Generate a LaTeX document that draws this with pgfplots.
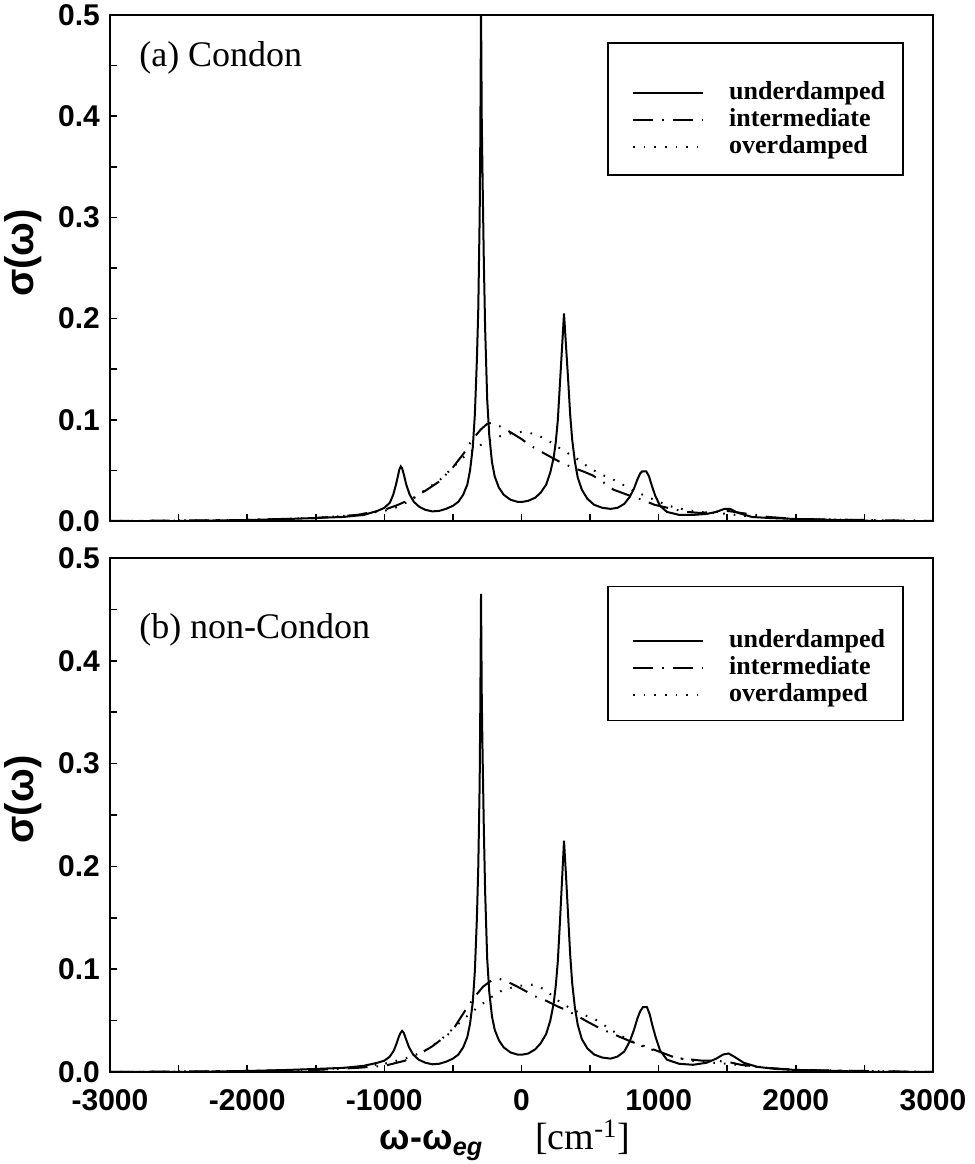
\documentclass[border=0pt]{standalone}
\usepackage{fontspec}
\setmainfont{Liberation Serif}
\setsansfont{Liberation Sans}
\usepackage{pgfplots}
\pgfplotsset{compat=1.18}

\pgfplotsset{
  spec/.style={
    scale only axis,
    width=411.5pt,
    xmin=-3000, xmax=3000,
    ymin=0, ymax=0.5,
    axis line style={line width=1.2pt},
    tick style={line width=0.8pt, black},
    tick align=inside,
    tickpos=left,
    major tick length=3.5pt,
    minor tick length=3.5pt,
    xtick={-3000,-2000,...,3000},
    minor xtick={-2500,-1500,...,2500},
    ytick={0,0.1,...,0.5},
    minor ytick={0.05,0.15,...,0.45},
    yticklabels={0.0,0.1,0.2,0.3,0.4,0.5},
    /pgf/number format/assume math mode=true,
    tick label style={font=\sffamily\bfseries\fontsize{15}{15}\selectfont},
    yticklabel style={xshift=-1.5pt},
    xticklabel style={yshift=-5pt},
    ylabel={σ(ω)},
    ylabel style={at={(axis description cs:-0.106,0.53)}, anchor=center,
      font=\sffamily\bfseries\fontsize{20}{20}\selectfont},
    legend cell align=left,
    legend style={draw=none, fill=none, inner sep=0pt, row sep=1.5pt,
      column sep=12.5pt,
      font=\rmfamily\bfseries\fontsize{13}{13}\selectfont,
      nodes={inner sep=0pt, text height=9pt, text depth=3pt}},
    legend image code/.code={
      \draw[#1] (0pt,0pt) -- (35pt,0pt);
    },
  },
  under/.style={black, line width=1pt},
  inter/.style={black, line width=1pt, dash pattern=on 10pt off 4.5pt on 0.8pt off 4.5pt},
  over/.style={black, line width=1pt, dash pattern=on 0.8pt off 4.5pt},
}

\begin{document}
\begin{tikzpicture}
% (a) Condon
\begin{axis}[spec, name=top, height=253pt, at={(0,0)}, anchor=south west,
  xticklabels={},
  legend style={at={(rel axis cs:0.634,0.87)}, anchor=north west}]
\addplot[under] coordinates {
(-3000,0.000) (-2500,0.000) (-2000,0.001) (-1700,0.002) (-1500,0.003) (-1300,0.004)
(-1150,0.006) (-1050,0.010) (-1000,0.013) (-960,0.018) (-935,0.026) (-915,0.036)
(-900,0.045) (-890,0.051) (-880,0.054) (-870,0.052) (-858,0.046) (-840,0.036)
(-815,0.026) (-785,0.019) (-745,0.014) (-700,0.011) (-650,0.0095) (-600,0.010)
(-550,0.012) (-500,0.015) (-460,0.019) (-425,0.026) (-395,0.036) (-375,0.050)
(-355,0.073) (-340,0.105) (-325,0.16) (-315,0.21) (-305,0.30) (-300,0.38)
(-295,0.51) (-290,0.40) (-285,0.35) (-275,0.26) (-265,0.19) (-250,0.12)
(-235,0.085) (-215,0.058) (-195,0.044) (-165,0.033) (-130,0.026) (-80,0.021)
(-30,0.019) (10,0.019) (50,0.020) (100,0.023) (140,0.028) (180,0.036)
(210,0.048) (235,0.063) (250,0.078) (265,0.10) (280,0.135) (295,0.17)
(310,0.205) (325,0.172) (340,0.14) (355,0.105) (370,0.080) (390,0.058)
(410,0.043) (440,0.031) (480,0.022) (530,0.016) (590,0.013) (650,0.012)
(700,0.013) (750,0.017) (790,0.024) (820,0.032) (845,0.041) (865,0.047)
(880,0.049) (910,0.049) (930,0.044) (950,0.035) (975,0.025) (1010,0.015)
(1060,0.009) (1150,0.006) (1250,0.006) (1350,0.007) (1420,0.009) (1480,0.012)
(1520,0.012) (1580,0.008) (1680,0.004) (1800,0.003) (2000,0.002) (2300,0.001)
(2600,0.000) (3000,0.000)
};
\addlegendentry{underdamped}
\addplot[inter] coordinates {
(-3000,0) (-2000,0.001) (-1500,0.003) (-1200,0.006) (-1000,0.011) (-900,0.016)
(-800,0.022) (-700,0.030) (-600,0.039) (-500,0.053) (-420,0.067) (-360,0.080)
(-300,0.090) (-250,0.096) (-220,0.097) (-180,0.095) (-120,0.091) (-60,0.086)
(0,0.081) (60,0.075) (150,0.068) (230,0.062) (300,0.057) (370,0.053)
(450,0.049) (520,0.045) (600,0.038) (670,0.031) (750,0.027) (810,0.024)
(900,0.020) (970,0.016) (1100,0.012) (1200,0.009) (1300,0.008) (1400,0.009)
(1500,0.010) (1600,0.008) (1800,0.004) (2000,0.002) (2500,0.001) (3000,0)
};
\addlegendentry{intermediate}
\addplot[over] coordinates {
(-3000,0) (-2000,0.001) (-1500,0.003) (-1200,0.006) (-1000,0.010) (-900,0.014)
(-800,0.021) (-700,0.031) (-600,0.040) (-500,0.053) (-400,0.066) (-300,0.075)
(-200,0.082) (-100,0.086) (0,0.088) (100,0.086) (200,0.079) (300,0.070)
(400,0.062) (500,0.052) (600,0.045) (700,0.039) (800,0.031) (900,0.025)
(1000,0.019) (1100,0.014) (1200,0.011) (1300,0.009) (1400,0.008) (1500,0.007)
(1700,0.004) (2000,0.002) (2500,0.001) (3000,0)
};
\addlegendentry{overdamped}
\draw[line width=0.8pt] (rel axis cs:0.605,0.9447) rectangle (rel axis cs:0.9636,0.6838);
\node[anchor=west, font=\rmfamily\fontsize{18}{18}\selectfont] at (rel axis cs:0.027,0.915) {(a) Condon};
\end{axis}

% (b) non-Condon
\begin{axis}[spec, name=bot, height=257pt, at={(0,-18.5pt)}, anchor=north west,
  xticklabels={-3000,-2000,-1000,0,1000,2000,3000},
  xlabel={{\sffamily\bfseries\fontsize{18}{18}\selectfont ω-ω\textsubscript{\itshape eg}}\hspace{26pt}{\rmfamily\fontsize{19}{19}\selectfont [cm\textsuperscript{-1}]}},
  xlabel style={at={(axis description cs:0.48,0)}, anchor=center, yshift=-34pt},
  legend style={at={(rel axis cs:0.634,0.862)}, anchor=north west}]
\addplot[under] coordinates {
(-3000,0) (-2500,0.000) (-2000,0.001) (-1700,0.002) (-1500,0.003) (-1300,0.004)
(-1150,0.006) (-1050,0.009) (-1000,0.011) (-960,0.015) (-930,0.021) (-910,0.028)
(-895,0.034) (-882,0.038) (-870,0.040) (-858,0.038) (-842,0.032) (-820,0.024)
(-790,0.017) (-750,0.012) (-700,0.009) (-650,0.0075) (-600,0.008) (-550,0.010)
(-500,0.013) (-460,0.017) (-425,0.024) (-395,0.034) (-375,0.047) (-355,0.068)
(-340,0.098) (-325,0.15) (-315,0.20) (-305,0.28) (-300,0.36) (-295,0.465)
(-290,0.37) (-285,0.32) (-275,0.24) (-265,0.175) (-250,0.11) (-235,0.078)
(-215,0.054) (-195,0.041) (-165,0.031) (-130,0.024) (-80,0.019) (-30,0.017)
(10,0.017) (50,0.018) (100,0.022) (140,0.028) (180,0.037) (210,0.050)
(235,0.067) (250,0.084) (265,0.108) (280,0.145) (295,0.185) (310,0.225)
(325,0.19) (340,0.152) (355,0.114) (370,0.086) (390,0.062) (410,0.046)
(440,0.032) (480,0.023) (530,0.017) (590,0.014) (650,0.013) (700,0.015)
(750,0.020) (790,0.030) (820,0.041) (845,0.052) (865,0.059) (885,0.063)
(915,0.063) (935,0.056) (955,0.045) (980,0.033) (1010,0.021) (1060,0.012)
(1150,0.008) (1250,0.007) (1350,0.009) (1420,0.013) (1470,0.017) (1510,0.018)
(1550,0.015) (1620,0.009) (1720,0.005) (1850,0.003) (2000,0.002) (2300,0.001)
(2600,0.000) (3000,0)
};
\addlegendentry{underdamped}
\addplot[inter] coordinates {
(-3000,0) (-2000,0.001) (-1500,0.002) (-1200,0.004) (-1000,0.006) (-850,0.011)
(-750,0.017) (-650,0.025) (-510,0.039) (-400,0.062) (-330,0.075) (-280,0.083)
(-220,0.089) (-170,0.091) (-105,0.088) (-30,0.083) (40,0.078) (110,0.073)
(185,0.069) (260,0.064) (330,0.060) (400,0.055) (480,0.049) (550,0.044)
(630,0.039) (720,0.034) (810,0.029) (880,0.026) (940,0.023) (1020,0.019)
(1100,0.015) (1170,0.013) (1245,0.012) (1320,0.011) (1400,0.011) (1500,0.010)
(1600,0.007) (1800,0.004) (2000,0.002) (2500,0.001) (3000,0)
};
\addlegendentry{intermediate}
\addplot[over] coordinates {
(-3000,0) (-2000,0.001) (-1500,0.002) (-1200,0.005) (-1000,0.008) (-850,0.013)
(-725,0.019) (-600,0.030) (-450,0.048) (-365,0.058) (-230,0.072) (-145,0.079)
(-50,0.083) (0,0.084) (85,0.085) (175,0.080) (250,0.071) (315,0.065)
(430,0.057) (540,0.051) (620,0.044) (700,0.037) (800,0.030) (900,0.024)
(990,0.020) (1100,0.015) (1200,0.012) (1300,0.010) (1400,0.009) (1500,0.008)
(1700,0.005) (2000,0.002) (2500,0.001) (3000,0)
};
\addlegendentry{overdamped}
\draw[line width=0.8pt] (rel axis cs:0.605,0.9447) rectangle (rel axis cs:0.9636,0.6838);
\node[anchor=west, font=\rmfamily\fontsize{18}{18}\selectfont] at (rel axis cs:0.027,0.86) {(b) non-Condon};
\end{axis}
\pgfresetboundingbox
\path[use as bounding box] (-55pt,-321.5pt) rectangle (432.5pt,260.5pt);
\end{tikzpicture}
\end{document}
